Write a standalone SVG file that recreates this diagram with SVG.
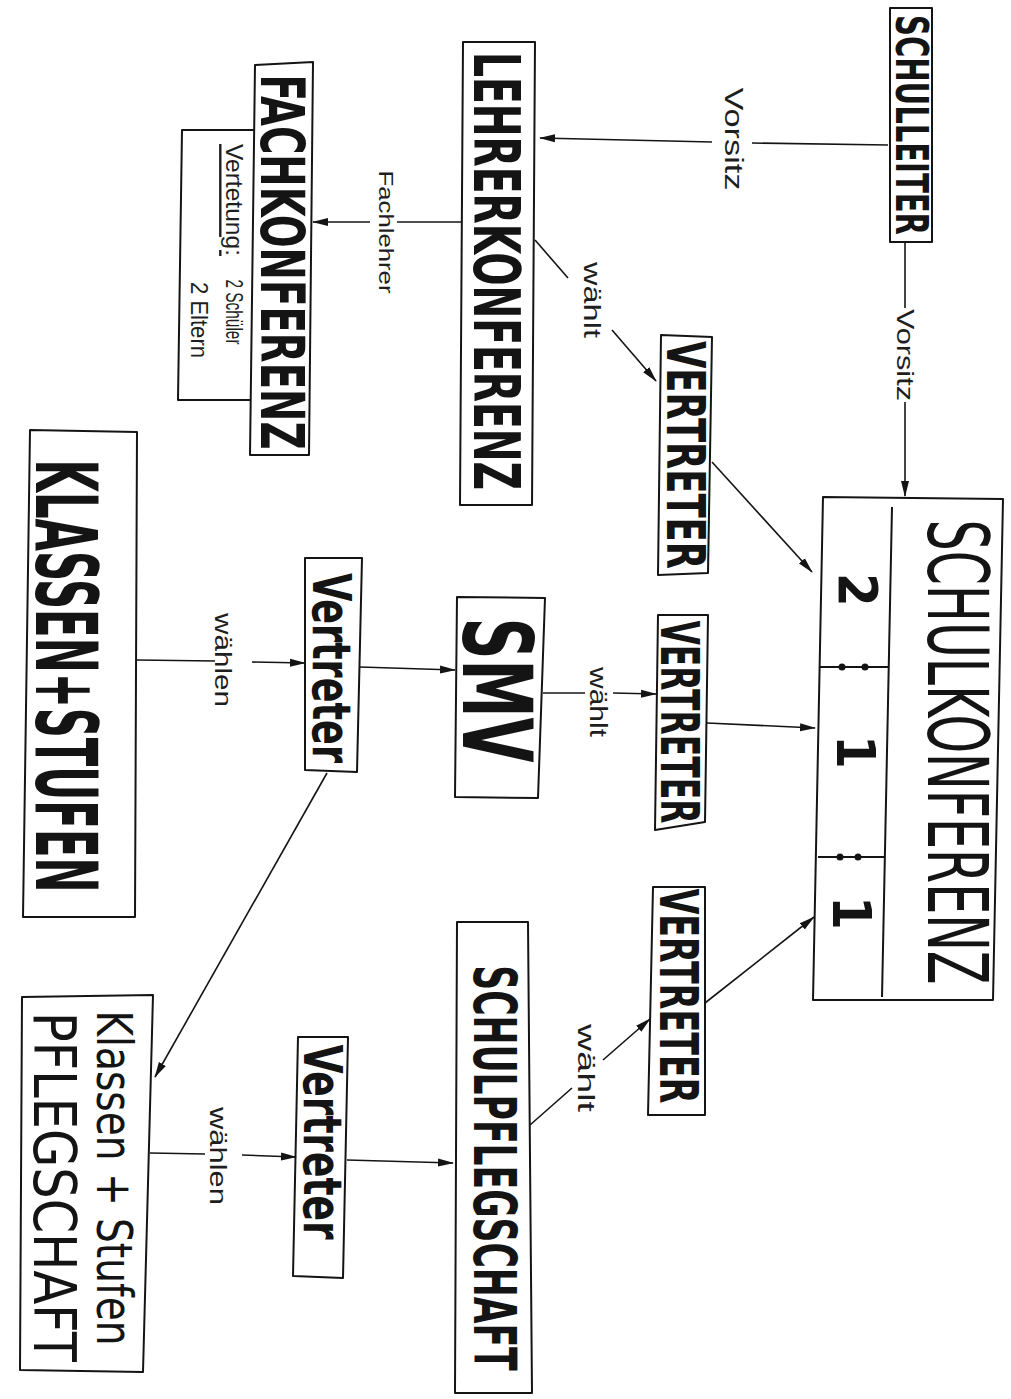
<svg xmlns="http://www.w3.org/2000/svg" width="1011" height="1399" viewBox="0 0 1011 1399">
<defs>
<style>
.box{fill:none;stroke:#141414;stroke-width:2;stroke-linejoin:round}
.ln{fill:none;stroke:#141414;stroke-width:1.6}
.big{font-family:"Liberation Sans Narrow","DejaVu Sans Condensed","Liberation Sans",sans-serif;font-weight:bold;fill:#141414}
.mid{font-family:"Liberation Sans Narrow","DejaVu Sans Condensed","Liberation Sans",sans-serif;fill:#141414}
.sm{font-family:"Liberation Sans","DejaVu Sans",sans-serif;fill:#1e1e1e}
</style>
<marker id="ah" viewBox="0 0 16 10" refX="15" refY="5" markerWidth="16" markerHeight="10" orient="auto" markerUnits="userSpaceOnUse"><path d="M0,1 L16,5 L0,9 z" fill="#141414"/></marker>
</defs>
<rect width="1011" height="1399" fill="#ffffff"/>

<g id="connectors">
<path class="ln" d="M888,145 L752,143"/>
<path class="ln" d="M712,142 L540,138" marker-end="url(#ah)"/>
<text class="sm" font-size="25" text-anchor="middle" dominant-baseline="central" textLength="103" lengthAdjust="spacingAndGlyphs" transform="translate(734,139) rotate(90)">Vorsitz</text>

<path class="ln" d="M905,242 L905,308"/>
<path class="ln" d="M905,402 L905,496" marker-end="url(#ah)"/>
<text class="sm" font-size="24" text-anchor="middle" dominant-baseline="central" textLength="92" lengthAdjust="spacingAndGlyphs" transform="translate(905,355) rotate(90)">Vorsitz</text>

<path class="ln" d="M462,222 L397,222"/>
<path class="ln" d="M370,222 L313,222" marker-end="url(#ah)"/>
<text class="sm" font-size="21" text-anchor="middle" dominant-baseline="central" textLength="123" lengthAdjust="spacingAndGlyphs" transform="translate(386,232) rotate(90)">Fachlehrer</text>

<path class="ln" d="M535,240 L568,278"/>
<path class="ln" d="M612,330 L656,381" marker-end="url(#ah)"/>
<text class="sm" font-size="24" text-anchor="middle" dominant-baseline="central" textLength="76" lengthAdjust="spacingAndGlyphs" transform="translate(592,300) rotate(90)">wählt</text>

<path class="ln" d="M712,462 L812,572" marker-end="url(#ah)"/>

<path class="ln" d="M137,660 L215,661"/>
<path class="ln" d="M252,662 L305,663" marker-end="url(#ah)"/>
<text class="sm" font-size="24" text-anchor="middle" dominant-baseline="central" textLength="94" lengthAdjust="spacingAndGlyphs" transform="translate(223,660) rotate(90)">wählen</text>

<path class="ln" d="M360,667 L455,670" marker-end="url(#ah)"/>

<path class="ln" d="M543,693 L585,693"/>
<path class="ln" d="M613,693 L656,694" marker-end="url(#ah)"/>
<text class="sm" font-size="23" text-anchor="middle" dominant-baseline="central" textLength="70" lengthAdjust="spacingAndGlyphs" transform="translate(598,702) rotate(90)">wählt</text>

<path class="ln" d="M707,723 L815,728" marker-end="url(#ah)"/>

<path class="ln" d="M327,773 L155,1077" marker-end="url(#ah)"/>

<path class="ln" d="M150,1153 L205,1154"/>
<path class="ln" d="M242,1155 L296,1157" marker-end="url(#ah)"/>
<text class="sm" font-size="24" text-anchor="middle" dominant-baseline="central" textLength="98" lengthAdjust="spacingAndGlyphs" transform="translate(218,1156) rotate(90)">wählen</text>

<path class="ln" d="M347,1160 L453,1163" marker-end="url(#ah)"/>

<path class="ln" d="M530,1125 L572,1088"/>
<path class="ln" d="M603,1060 L650,1019" marker-end="url(#ah)"/>
<text class="sm" font-size="24" text-anchor="middle" dominant-baseline="central" textLength="88" lengthAdjust="spacingAndGlyphs" transform="translate(586,1068) rotate(90)">wählt</text>

<path class="ln" d="M705,1003 L814,917" marker-end="url(#ah)"/>
</g>

<g id="schulleiter">
<rect class="box" x="890" y="8" width="42" height="234"/>
<text class="big" font-size="44" text-anchor="middle" dominant-baseline="central" textLength="220" lengthAdjust="spacingAndGlyphs" transform="translate(911,125) rotate(90)">SCHULLEITER</text>
</g>

<g id="lehrerkonferenz">
<polygon class="box" points="463,42 535,42 532,505 460,505"/>
<text class="big" font-size="64" text-anchor="middle" dominant-baseline="central" textLength="438" lengthAdjust="spacingAndGlyphs" transform="translate(496,271) rotate(90)">LEHRERKONFERENZ</text>
</g>

<g id="fachkonferenz">
<polygon class="box" points="255,65 313,62 309,455 250,455"/>
<polyline class="box" points="254,130 182,130 178,400 250,400"/>
<text class="big" font-size="60" text-anchor="middle" dominant-baseline="central" textLength="375" lengthAdjust="spacingAndGlyphs" transform="translate(282,262) rotate(90)">FACHKONFERENZ</text>
<text class="sm" font-size="24" text-anchor="middle" dominant-baseline="central" textLength="112" lengthAdjust="spacingAndGlyphs" text-decoration="underline" transform="translate(234,200) rotate(90)">Vertetung:</text>
<text class="sm" font-size="24" text-anchor="middle" dominant-baseline="central" textLength="65" lengthAdjust="spacingAndGlyphs" transform="translate(234,312) rotate(90)">2 Schüler</text>
<text class="sm" font-size="24" text-anchor="middle" dominant-baseline="central" textLength="76" lengthAdjust="spacingAndGlyphs" transform="translate(199,320) rotate(90)">2 Eltern</text>
</g>

<g id="vertreter-lehrer">
<polygon class="box" points="661,335 712,337 708,573 658,575"/>
<text class="big" font-size="54" text-anchor="middle" dominant-baseline="central" textLength="228" lengthAdjust="spacingAndGlyphs" transform="translate(685,455) rotate(90)">VERTRETER</text>
</g>

<g id="schulkonferenz">
<polygon class="box" points="823,497 1003,499 993,1000 813,1000"/>
<path class="box" d="M892,507 L882,997"/>
<path class="box" d="M820,667 L889,667"/>
<path class="box" d="M818,857 L885,857"/>
<circle cx="842" cy="667" r="3.5" fill="#141414"/>
<circle cx="865" cy="667" r="3.5" fill="#141414"/>
<circle cx="840" cy="857" r="3.5" fill="#141414"/>
<circle cx="858" cy="857" r="3.5" fill="#141414"/>
<text class="mid" font-size="84" text-anchor="middle" dominant-baseline="central" textLength="465" lengthAdjust="spacingAndGlyphs" transform="translate(957,752) rotate(90)">SCHULKONFERENZ</text>
<text class="big" font-size="54" text-anchor="middle" dominant-baseline="central" transform="translate(857,590) rotate(90)">2</text>
<text class="big" font-size="54" text-anchor="middle" dominant-baseline="central" transform="translate(855,752) rotate(90)">1</text>
<text class="big" font-size="54" text-anchor="middle" dominant-baseline="central" transform="translate(851,913) rotate(90)">1</text>
</g>

<g id="klassen-stufen">
<polygon class="box" points="30,430 137,432 135,917 23,917"/>
<text class="big" font-size="86" text-anchor="middle" dominant-baseline="central" textLength="433" lengthAdjust="spacingAndGlyphs" transform="translate(66,676) rotate(90)">KLASSEN+STUFEN</text>
</g>

<g id="vertreter-smv">
<polygon class="box" points="305,558 362,558 357,772 305,770"/>
<text class="big" font-size="54" text-anchor="middle" dominant-baseline="central" textLength="190" lengthAdjust="spacingAndGlyphs" transform="translate(331,668) rotate(90)">Vertreter</text>
</g>

<g id="smv">
<polygon class="box" points="457,597 545,598 538,798 455,797"/>
<text class="big" font-size="96" text-anchor="middle" dominant-baseline="central" textLength="145" lengthAdjust="spacingAndGlyphs" transform="translate(496,690) rotate(90)">SMV</text>
</g>

<g id="vertreter-smv-schulkonferenz">
<polygon class="box" points="658,615 708,615 705,822 655,830"/>
<text class="big" font-size="54" text-anchor="middle" dominant-baseline="central" textLength="203" lengthAdjust="spacingAndGlyphs" transform="translate(679,722) rotate(90)">VERTRETER</text>
</g>

<g id="vertreter-eltern">
<polygon class="box" points="653,887 705,887 705,1115 648,1115"/>
<text class="big" font-size="54" text-anchor="middle" dominant-baseline="central" textLength="215" lengthAdjust="spacingAndGlyphs" transform="translate(678,996) rotate(90)">VERTRETER</text>
</g>

<g id="schulpflegschaft">
<polygon class="box" points="457,922 528,922 532,1393 455,1393"/>
<text class="big" font-size="58" text-anchor="middle" dominant-baseline="central" textLength="579" lengthAdjust="spacingAndGlyphs" transform="translate(494,1168) rotate(90) scale(0.7,1)">SCHULPFLEGSCHAFT</text>
</g>

<g id="vertreter-pflegschaft">
<polygon class="box" points="298,1037 348,1037 343,1278 293,1276"/>
<text class="big" font-size="54" text-anchor="middle" dominant-baseline="central" textLength="195" lengthAdjust="spacingAndGlyphs" transform="translate(322,1142) rotate(90)">Vertreter</text>
</g>

<g id="klassen-stufen-pflegschaft">
<polygon class="box" points="22,997 153,995 143,1372 20,1370"/>
<text class="mid" font-size="50" text-anchor="middle" dominant-baseline="central" textLength="335" lengthAdjust="spacingAndGlyphs" transform="translate(114,1178) rotate(90)">Klassen + Stufen</text>
<text class="mid" font-size="58" text-anchor="middle" dominant-baseline="central" textLength="350" lengthAdjust="spacingAndGlyphs" transform="translate(54,1187) rotate(90)">PFLEGSCHAFT</text>
</g>
</svg>
